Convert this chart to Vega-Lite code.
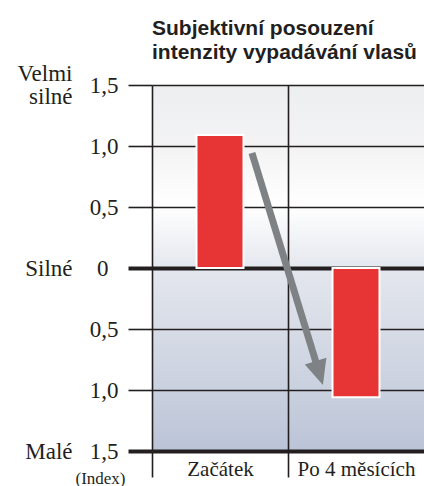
{
  "$schema": "https://vega.github.io/schema/vega-lite/v6.json",
  "autosize": "none",
  "padding": {"left": 152, "top": 85, "right": 0, "bottom": 35},
  "width": 272,
  "height": 366,
  "background": "#ffffff",
  "title": {
    "text": ["Subjektivní posouzení", "intenzity vypadávání vlasů"],
    "font": "Liberation Sans",
    "fontSize": 21,
    "fontWeight": "bold",
    "color": "#231f20",
    "anchor": "start",
    "frame": "group",
    "offset": 0,
    "lineHeight": 24
  },
  "config": {
    "view": {
      "stroke": null,
      "fill": {
        "gradient": "linear",
        "x1": 0, "y1": 0, "x2": 0, "y2": 1,
        "stops": [
          {"offset": 0, "color": "#edeef0"},
          {"offset": 0.18, "color": "#f4f4f5"},
          {"offset": 0.33, "color": "#ffffff"},
          {"offset": 0.5, "color": "#e4e7ee"},
          {"offset": 0.75, "color": "#d0d6e2"},
          {"offset": 1, "color": "#bbc4d7"}
        ]
      }
    }
  },
  "datasets": {
    "bars": [
      {"phase": "Začátek", "pos": 0.5, "value": 1.09},
      {"phase": "Po 4 měsících", "pos": 1.5, "value": -1.06}
    ],
    "arrow": [
      {"x": 0.735, "y": 0.943, "x2": 1.23, "y2": -0.861}
    ]
  },
  "resolve": {"axis": {"y": "independent"}},
  "layer": [
    {
      "data": {"name": "bars"},
      "mark": {"type": "bar", "size": 47, "color": "#e73434", "stroke": "#ffffff", "strokeWidth": 2},
      "encoding": {
        "x": {
          "field": "pos", "type": "quantitative",
          "scale": {"domain": [0, 2], "nice": false, "zero": false, "padding": 0},
          "axis": {
            "values": [0, 1],
            "labelExpr": "datum.value == 0 ? 'Začátek' : 'Po 4 měsících'",
            "labelOffset": 68,
            "labelFlush": false,
            "labelOverlap": false,
            "labelBound": false,
            "labelPadding": -19,
            "labelFont": "Liberation Serif",
            "labelFontSize": 21,
            "labelColor": "#231f20",
            "labelAlign": "center",
            "labelBaseline": "top",
            "ticks": true,
            "tickSize": 26,
            "tickColor": "#231f20",
            "tickWidth": 1.6,
            "grid": true,
            "gridColor": "#231f20",
            "gridWidth": 1.6,
            "gridOpacity": 1,
            "domain": false,
            "title": null
          }
        },
        "y": {
          "field": "value", "type": "quantitative",
          "scale": {"domain": [-1.5, 1.5], "nice": false, "zero": false},
          "axis": {
            "values": [-1.5, -1, -0.5, 0, 0.5, 1, 1.5],
            "labelExpr": "datum.value == 0 ? '0' : replace(format(abs(datum.value), '.1f'), '.', ',')",
            "labelFont": "Liberation Serif",
            "labelFontSize": 23,
            "labelColor": "#231f20",
            "labelPadding": {"condition": {"test": "datum.value == 0", "value": 20}, "value": 10},
            "tickSize": 24,
            "tickColor": "#231f20",
            "tickWidth": {"condition": {"test": "datum.value == 0 || datum.value == -1.5", "value": 4}, "value": 1.6},
            "grid": true,
            "gridColor": "#231f20",
            "gridOpacity": 1,
            "gridWidth": {"condition": {"test": "datum.value == 0 || datum.value == -1.5", "value": 4}, "value": 1.6},
            "domain": false,
            "title": "(Index)",
            "titleAngle": 0,
            "titleX": -52,
            "titleY": 393,
            "titleAlign": "center",
            "titleBaseline": "middle",
            "titleFont": "Liberation Serif",
            "titleFontSize": 17,
            "titleFontWeight": "normal",
            "titleColor": "#231f20"
          }
        }
      }
    },
    {
      "data": {"name": "arrow"},
      "mark": {"type": "rule", "color": "#7f8284", "strokeWidth": 7},
      "encoding": {
        "x": {"field": "x", "type": "quantitative"},
        "y": {"field": "y", "type": "quantitative", "axis": null},
        "x2": {"field": "x2"},
        "y2": {"field": "y2"}
      }
    },
    {
      "data": {"name": "arrow"},
      "mark": {"type": "point", "shape": "M0,1L-0.9,-1L0.9,-1Z", "filled": true, "opacity": 1, "color": "#7f8284", "size": 625, "angle": -17},
      "encoding": {
        "x": {"field": "x2", "type": "quantitative"},
        "y": {
          "field": "y2", "type": "quantitative",
          "axis": {
            "orient": "left",
            "values": [1.5, 0, -1.5],
            "labelExpr": "datum.value == 1.5 ? ['Velmi', 'silné'] : (datum.value == 0 ? 'Silné' : 'Malé')",
            "labelFont": "Liberation Serif",
            "labelFontSize": 23,
            "labelLineHeight": 23,
            "labelColor": "#231f20",
            "labelAlign": "right",
            "labelBaseline": "middle",
            "labelOffset": {"condition": {"test": "datum.value == 1.5", "value": -11.5}, "value": 0},
            "labelPadding": 0,
            "labelOverlap": false,
            "labelBound": false,
            "labelFlush": false,
            "ticks": false,
            "tickSize": 0,
            "domain": false,
            "grid": false,
            "offset": 80,
            "title": null
          }
        }
      }
    }
  ]
}
